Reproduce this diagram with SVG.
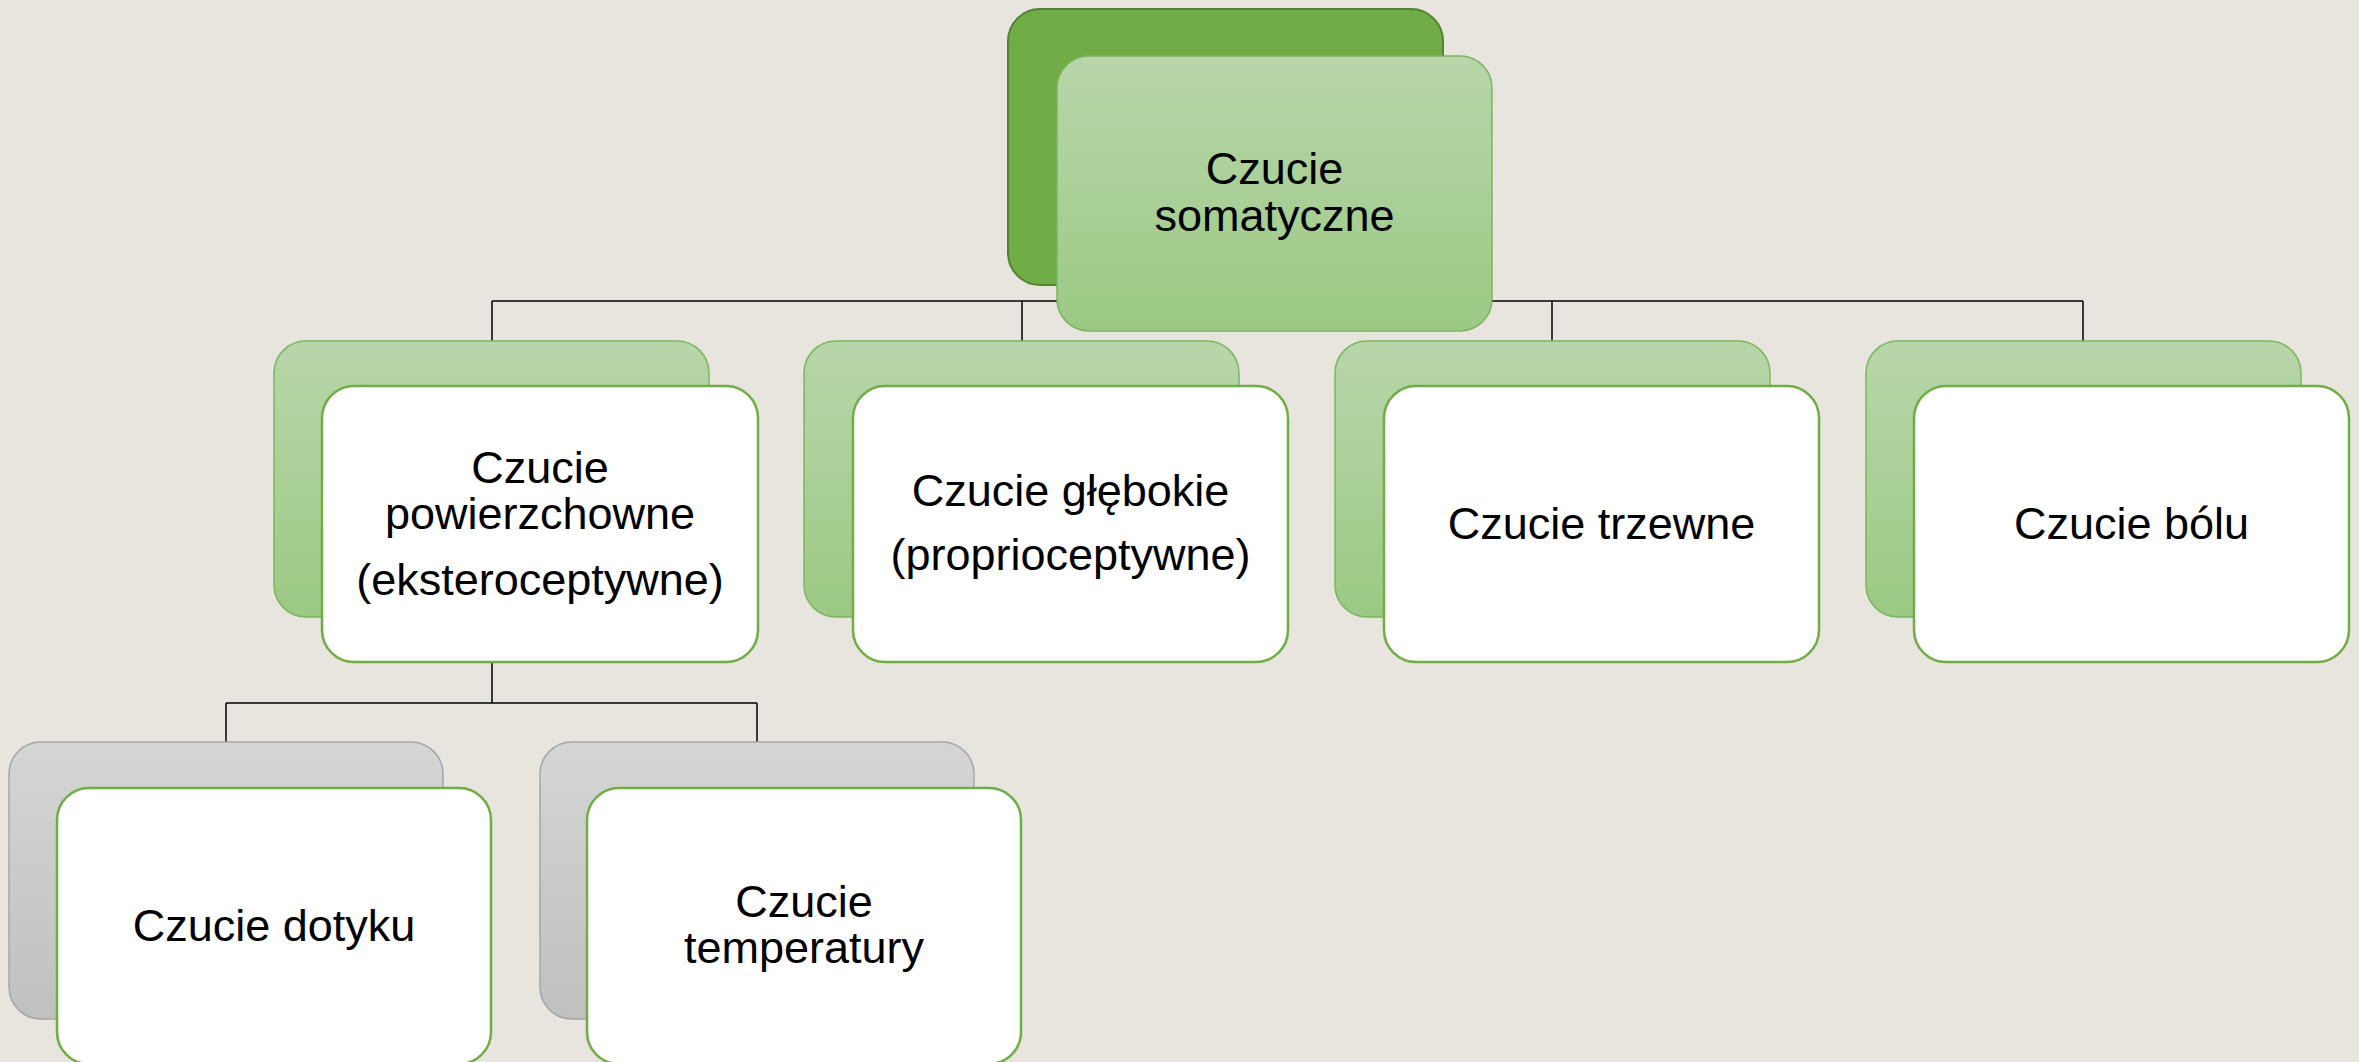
<svg xmlns="http://www.w3.org/2000/svg" width="2359" height="1062" viewBox="0 0 2359 1062">
<defs>
<linearGradient id="gGreen" x1="0" y1="0" x2="0" y2="1">
<stop offset="0" stop-color="#B7D6AA"/>
<stop offset="1" stop-color="#9CC984"/>
</linearGradient>
<linearGradient id="gGray" x1="0" y1="0" x2="0" y2="1">
<stop offset="0" stop-color="#D5D5D5"/>
<stop offset="1" stop-color="#C0C0C0"/>
</linearGradient>
<style>
.bgTop{fill:#70AD47;stroke:#548235;stroke-width:2}
.frTop{fill:url(#gGreen);stroke:#7DB55E;stroke-width:1.5}
.bgGreen{fill:url(#gGreen);stroke:#7DB55E;stroke-width:1.5}
.bgGray{fill:url(#gGray);stroke:#A6A6A6;stroke-width:1.5}
.front{fill:#FFFFFF;stroke:#70AD47;stroke-width:2.5}
.conn{fill:none;stroke:#000000;stroke-width:1.5}
text{font-family:"Liberation Sans",Arial,sans-serif;font-size:45px;fill:#000000;text-anchor:middle}
</style>
</defs>
<rect x="0" y="0" width="2359" height="1062" fill="#E8E5DF"/>
<g id="connectors">
<path class="conn" d="M492,301 H2083 M492,301 V341 M1022,301 V341 M1552,301 V341 M2083,301 V341"/>
<path class="conn" d="M492,662 V703 M226,703 H757 M226,703 V742 M757,703 V742"/>
</g>
<g id="node-somatyczne">
<rect class="bgTop" x="1008" y="9" width="435" height="276" rx="32"/>
<rect class="frTop" x="1057" y="56" width="435" height="275" rx="32"/>
<text x="1274.5" y="184">Czucie</text>
<text x="1274.5" y="231">somatyczne</text>
</g>
<g id="node-powierzchowne">
<rect class="bgGreen" x="274" y="341" width="435" height="276" rx="32"/>
<rect class="front" x="322" y="386" width="436" height="276" rx="32"/>
<text x="540" y="483">Czucie</text>
<text x="540" y="529">powierzchowne</text>
<text x="540" y="595">(eksteroceptywne)</text>
</g>
<g id="node-glebokie">
<rect class="bgGreen" x="804" y="341" width="435" height="276" rx="32"/>
<rect class="front" x="853" y="386" width="435" height="276" rx="32"/>
<text x="1070.5" y="506">Czucie głębokie</text>
<text x="1070.5" y="570">(proprioceptywne)</text>
</g>
<g id="node-trzewne">
<rect class="bgGreen" x="1335" y="341" width="435" height="276" rx="32"/>
<rect class="front" x="1384" y="386" width="435" height="276" rx="32"/>
<text x="1601.5" y="539">Czucie trzewne</text>
</g>
<g id="node-bolu">
<rect class="bgGreen" x="1866" y="341" width="435" height="276" rx="32"/>
<rect class="front" x="1914" y="386" width="435" height="276" rx="32"/>
<text x="2131.5" y="539">Czucie bólu</text>
</g>
<g id="node-dotyku">
<rect class="bgGray" x="9" y="742" width="434" height="277" rx="32"/>
<rect class="front" x="57" y="788" width="434" height="276" rx="32"/>
<text x="274" y="941">Czucie dotyku</text>
</g>
<g id="node-temperatury">
<rect class="bgGray" x="540" y="742" width="434" height="277" rx="32"/>
<rect class="front" x="587" y="788" width="434" height="276" rx="32"/>
<text x="804" y="917">Czucie</text>
<text x="804" y="963">temperatury</text>
</g>
</svg>
